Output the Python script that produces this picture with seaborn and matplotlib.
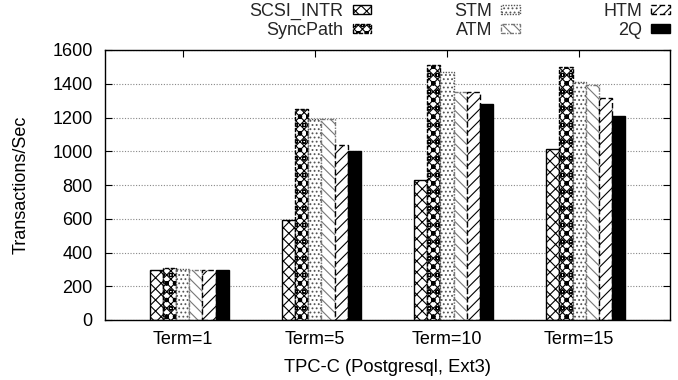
import numpy as np
import pandas as pd
import seaborn as sns
import matplotlib.pyplot as plt

sns.set_theme(style="white")
plt.rcParams["font.family"] = ["Liberation Sans", "DejaVu Sans"]
plt.rcParams["hatch.linewidth"] = 0.8

terms = ["Term=1", "Term=5", "Term=10", "Term=15"]
schemes = ["SCSI_INTR", "SyncPath", "STM", "ATM", "HTM", "2Q"]

scsi_intr = [295, 595, 830, 1015]
sync_path = [310, 1250, 1510, 1500]
stm = [305, 1190, 1470, 1410]
atm = [295, 1190, 1350, 1390]
htm = [295, 1040, 1350, 1315]
two_q = [295, 1000, 1280, 1210]

yticks = [0, 200, 400, 600, 800, 1000, 1200, 1400, 1600]

series = [scsi_intr, sync_path, stm, atm, htm, two_q]
df = pd.DataFrame(
    [(t, s, v) for s, vals in zip(schemes, series) for t, v in zip(terms, vals)],
    columns=["term", "scheme", "tps"],
)

# gnuplot-like fill styles for each scheme
styles = [
    dict(facecolor="white", edgecolor="black", hatch="xxx", linestyle="-"),
    dict(facecolor="white", edgecolor="black", hatch="xxxxoo", linestyle=(0, (3, 1))),
    dict(facecolor="white", edgecolor="#555555", hatch="....", linestyle=(0, (1, 1))),
    dict(facecolor="white", edgecolor="#777777", hatch="\\\\\\", linestyle=(0, (3, 1, 1, 1))),
    dict(facecolor="white", edgecolor="black", hatch="///", linestyle=(0, (4, 2))),
    dict(facecolor="black", edgecolor="black", hatch=None, linestyle="-"),
]

FS = 13

fig = plt.figure(figsize=(6.78, 3.80), dpi=100)
ax = fig.add_axes([105 / 678, 60 / 380, 565 / 678, 270 / 380])

sns.barplot(
    data=df, x="term", y="tps", hue="scheme", order=terms, hue_order=schemes,
    width=0.6, dodge=True, legend=False, ax=ax, gap=0, errorbar=None,
    linewidth=1.0, saturation=1,
)

for cont, st in zip(ax.containers, styles):
    for p in cont.patches:
        p.set_facecolor(st["facecolor"])
        p.set_edgecolor(st["edgecolor"])
        p.set_hatch(st["hatch"])
        p.set_linestyle(st["linestyle"])
        p.set_linewidth(1.0)
        p.set_zorder(2)

ax.set_ylim(0, 1600)
ax.set_yticks(yticks)
ax.set_xticks(np.arange(len(terms)) - 0.05, terms)
ax.set_xlim(-0.637, 3.637)

ax.grid(axis="y", color="#888888", linestyle=(0, (1, 1.5)), linewidth=0.8, zorder=0)
ax.set_axisbelow(True)

for sp in ax.spines.values():
    sp.set_color("black")
    sp.set_linewidth(1.0)

ax.tick_params(axis="both", direction="in", length=5, width=0.8, color="black",
               labelsize=FS, labelcolor="black", top=True, right=True,
               bottom=True, left=True)
ax.tick_params(axis="x", pad=8)
ax.tick_params(axis="y", pad=9)

ax.set_xlabel("TPC-C (Postgresql, Ext3)", fontsize=13.2, color="black", labelpad=8)
ax.set_ylabel("Transactions/Sec", fontsize=FS, color="black", labelpad=16)

handles = [cont.patches[0] for cont in ax.containers]
fig.legend(
    handles, schemes, ncol=3, loc="upper right",
    bbox_to_anchor=(673 / 678, 1.0), frameon=False, markerfirst=False,
    fontsize=FS, handlelength=1.05, handleheight=0.42, handletextpad=0.5,
    columnspacing=4.6, labelspacing=0.12, borderpad=0.15, borderaxespad=0.0,
)

fig.savefig("out.png", dpi=100)
